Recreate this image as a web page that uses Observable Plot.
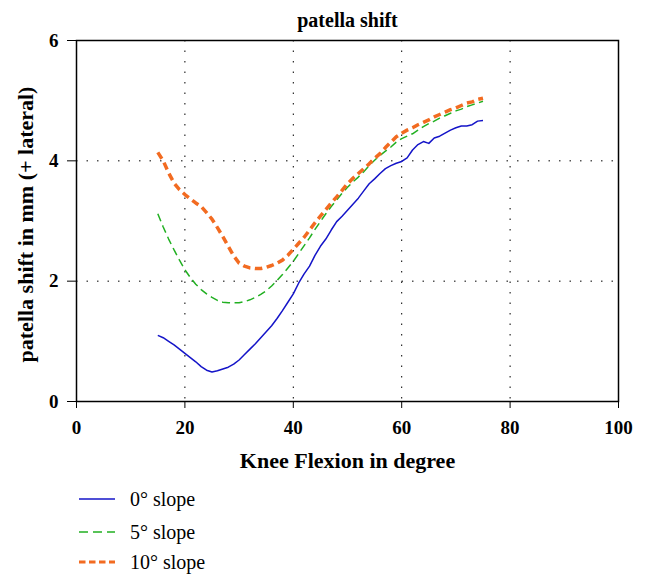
<!DOCTYPE html>
<html><head><meta charset="utf-8">
<script src="https://cdn.jsdelivr.net/npm/d3@7"></script>
<script src="https://cdn.jsdelivr.net/npm/@observablehq/plot@0.6"></script>
<style>
body{margin:0;background:#fff;}
#wrap{position:relative;width:646px;height:587px;overflow:hidden;font-family:'Liberation Serif',serif;background:#fff;}
.lg{position:absolute;left:79px;height:24px;display:flex;align-items:center;}
.lg span{margin-left:14px;font-size:20px;line-height:24px;color:#000;white-space:nowrap;}
</style></head><body><div id="wrap"></div>
<script>
const titleText = "patella shift";
const xLabel = "Knee Flexion in degree";
const yLabel = "patella shift in mm (+ lateral)";
const xTicks = [0, 20, 40, 60, 80, 100];
const yTicks = [0, 2, 4, 6];
const xGrid = [20, 40, 60, 80];
const yGrid = [2, 4];
const seriesNames = ["0° slope", "5° slope", "10° slope"];
const seriesColors = ["#1414c8", "#22b022", "#f26b21"];

const flexion = [15,16,17,18,19,20,21,22,23,24,25,26,27,28,29,30,31,32,33,34,35,36,37,38,39,40,41,42,43,44,45,46,47,48,49,50,51,52,53,54,55,56,57,58,59,60,61,62,63,64,65,66,67,68,69,70,71,72,73,74,75];
const slope0 = [1.10,1.06,1.00,0.94,0.87,0.80,0.73,0.66,0.58,0.52,0.49,0.51,0.54,0.57,0.62,0.69,0.78,0.87,0.96,1.06,1.16,1.26,1.38,1.51,1.65,1.79,1.97,2.12,2.25,2.43,2.58,2.70,2.85,2.99,3.08,3.18,3.28,3.38,3.50,3.62,3.70,3.79,3.87,3.92,3.96,3.99,4.05,4.18,4.27,4.32,4.29,4.38,4.41,4.46,4.51,4.55,4.58,4.58,4.60,4.66,4.67];
const slope5 = [3.12,2.90,2.70,2.52,2.35,2.19,2.06,1.95,1.86,1.79,1.73,1.68,1.65,1.64,1.64,1.64,1.66,1.69,1.73,1.78,1.84,1.92,2.01,2.11,2.22,2.33,2.46,2.59,2.72,2.86,2.99,3.12,3.24,3.35,3.46,3.56,3.65,3.73,3.82,3.92,4.01,4.09,4.16,4.23,4.31,4.37,4.41,4.45,4.51,4.57,4.62,4.66,4.71,4.75,4.79,4.83,4.86,4.90,4.93,4.96,4.99];
const slope10 = [4.14,4.00,3.80,3.63,3.52,3.44,3.37,3.30,3.24,3.14,3.03,2.89,2.74,2.58,2.42,2.30,2.25,2.22,2.21,2.21,2.23,2.26,2.30,2.35,2.43,2.53,2.63,2.73,2.85,2.97,3.08,3.19,3.30,3.40,3.51,3.62,3.71,3.79,3.87,3.95,4.04,4.12,4.22,4.31,4.40,4.46,4.51,4.55,4.60,4.64,4.68,4.73,4.77,4.81,4.85,4.88,4.92,4.96,4.98,5.02,5.04];

const allSeries = [slope0, slope5, slope10];
const rows = allSeries.map((ys, k) => flexion.map((x, i) => ({x, y: ys[i], s: seriesNames[k]})));
const lineStyles = [
  {strokeWidth: 1.5, dash: null},
  {strokeWidth: 1.5, dash: "8,4.5"},
  {strokeWidth: 3.5, dash: "7.5,4.5"}
];
const legendDash = [null, "9,5", "6.5,3.5"];

const chart = Plot.plot({
  width: 646,
  height: 587,
  marginLeft: 76,
  marginRight: 28,
  marginTop: 40,
  marginBottom: 186,
  style: {fontFamily: "'Liberation Serif', serif", background: "white", color: "black", overflow: "visible"},
  x: {domain: [0, 100], ticks: xTicks},
  y: {domain: [0, 6], ticks: yTicks},
  marks: [
    Plot.gridX(xGrid, {stroke: "black", strokeOpacity: 1, strokeWidth: 1, strokeDasharray: "1.5,9"}),
    Plot.gridY(yGrid, {stroke: "black", strokeOpacity: 1, strokeWidth: 1, strokeDasharray: "1.5,9"}),
    Plot.frame({stroke: "black", strokeWidth: 1.5}),
    Plot.axisX(xTicks, {tickSize: 7, tickPadding: 12, fontSize: 19, fontWeight: "bold", label: null, tickFormat: d => String(d)}),
    Plot.axisY(yTicks, {tickSize: 9, tickPadding: 9, fontSize: 19, fontWeight: "bold", label: null, tickFormat: d => String(d)}),
    ...rows.map((r, k) => Plot.line(r, {x: "x", y: "y", stroke: seriesColors[k], strokeWidth: lineStyles[k].strokeWidth, strokeDasharray: lineStyles[k].dash, strokeLinejoin: "round", strokeLinecap: "butt"})),
    Plot.text([xLabel], {text: d => d, frameAnchor: "bottom", textAnchor: "middle", lineAnchor: "middle", dy: 59, fontSize: 22, fontWeight: "bold"}),
    Plot.text([yLabel], {text: d => d, frameAnchor: "left", textAnchor: "middle", lineAnchor: "middle", dx: -51, dy: 3.5, rotate: -90, fontSize: 22, fontWeight: "bold"}),
    Plot.text([titleText], {text: d => d, frameAnchor: "top", textAnchor: "middle", lineAnchor: "middle", dy: -20, fontSize: 20, fontWeight: "bold"})
  ]
});
const wrap = document.getElementById("wrap");
wrap.appendChild(chart);

const legendCenters = [499, 532, 562];
seriesNames.forEach((name, k) => {
  const row = document.createElement("div");
  row.className = "lg";
  row.style.top = (legendCenters[k] - 12) + "px";
  const ns = "http://www.w3.org/2000/svg";
  const svg = document.createElementNS(ns, "svg");
  svg.setAttribute("width", "37");
  svg.setAttribute("height", "24");
  const ln = document.createElementNS(ns, "line");
  ln.setAttribute("x1", "0"); ln.setAttribute("x2", "36");
  ln.setAttribute("y1", "12"); ln.setAttribute("y2", "12");
  ln.setAttribute("stroke", seriesColors[k]);
  ln.setAttribute("stroke-width", k === 2 ? "3" : "1.5");
  if (legendDash[k]) ln.setAttribute("stroke-dasharray", legendDash[k]);
  svg.appendChild(ln);
  row.appendChild(svg);
  const sp = document.createElement("span");
  sp.textContent = name;
  row.appendChild(sp);
  wrap.appendChild(row);
});
</script>
</body></html>
